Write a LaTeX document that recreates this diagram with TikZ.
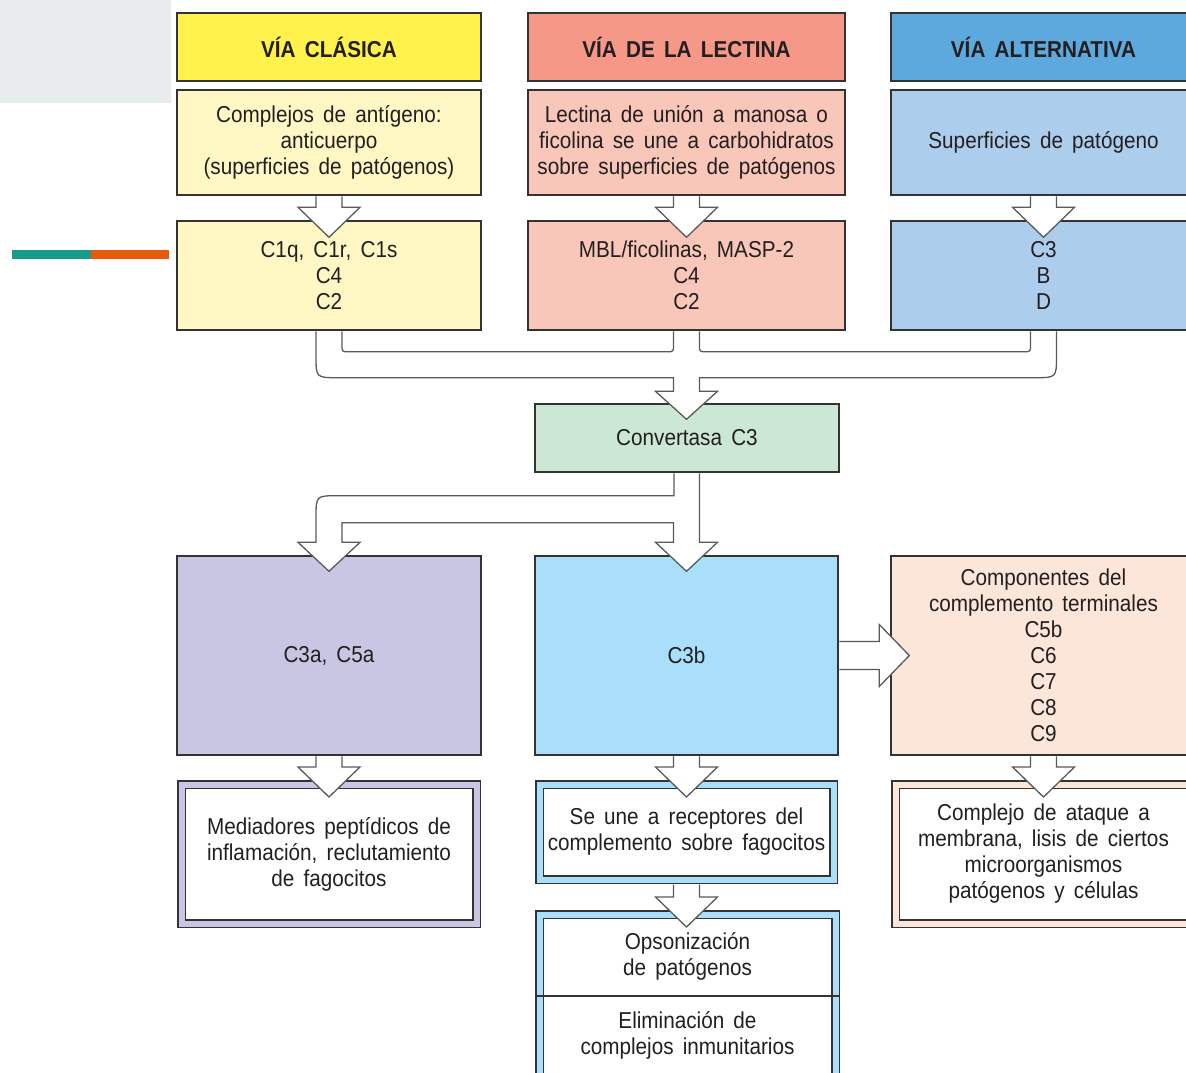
\documentclass[tikz,border=0pt]{standalone}
\usepackage{fontspec}
\setmainfont{Liberation Sans}[FakeStretch=0.9,WordSpace=1.6]
\usetikzlibrary{calc}

\definecolor{linea}{HTML}{333333}
\definecolor{grisflecha}{HTML}{5A5A5A}
\definecolor{texto}{HTML}{231F20}
\definecolor{grisfondo}{HTML}{E8ECEC}
\definecolor{verdeazul}{HTML}{1A9A8A}
\definecolor{naranja}{HTML}{E8590C}
\definecolor{amarillo}{HTML}{FFF24D}
\definecolor{amarilloclaro}{HTML}{FFF8C5}
\definecolor{salmon}{HTML}{F59887}
\definecolor{salmonclaro}{HTML}{F9C7BA}
\definecolor{azul}{HTML}{5DA9DD}
\definecolor{azulclaro}{HTML}{ADCDEC}
\definecolor{verde}{HTML}{CCE8D4}
\definecolor{morado}{HTML}{C8C6E3}
\definecolor{celeste}{HTML}{A9DFF9}
\definecolor{durazno}{HTML}{FCE5D9}

\tikzset{
  caja/.style={draw=linea, line width=1.4pt, text=texto, align=center, inner sep=0pt,
    font=\fontsize{23}{26}\selectfont},
  titulo/.style={caja, font=\fontsize{23}{26}\selectfont\bfseries},
  cajadoble/.style={caja, fill=white, double=#1, double distance=6pt, line width=1.5pt, outer sep=4.5pt},
  flecha/.style={draw=grisflecha, fill=white, line width=1.3pt, line join=miter},
  rotulo/.style={text=texto, align=center, inner sep=0pt, font=\fontsize{23}{26}\selectfont},
}

\newcommand{\flechabaja}[2]{%
  \draw[flecha] let \p1=(#1.south), \p2=(#2.north) in
    (\x1-13pt,\y1-0.7pt) -- (\x1-13pt,\y2+13pt) -- (\x1-31pt,\y2+13pt) -- (\x1,\y2-17pt)
    -- (\x1+31pt,\y2+13pt) -- (\x1+13pt,\y2+13pt) -- (\x1+13pt,\y1-0.7pt);}

\newcommand{\flechader}[2]{%
  \draw[flecha] let \p1=(#1.east), \p2=(#2.west) in
    (\x1+0.7pt,\y1+14pt) -- (\x2-11pt,\y1+14pt) -- (\x2-11pt,\y1+31pt) -- (\x2+19pt,\y1)
    -- (\x2-11pt,\y1-31pt) -- (\x2-11pt,\y1-14pt) -- (\x1+0.7pt,\y1-14pt);}

\begin{document}
\begin{tikzpicture}[x=1pt, y=-1pt]
  \useasboundingbox (0,0) rectangle (1186,1072);
  \clip (0,0) rectangle (1186,1072);

  \fill[grisfondo] (0,0) rectangle (171,103);
  \fill[verdeazul] (12,250) rectangle (91,259);
  \fill[naranja] (91,250) rectangle (169,259);

  % las tres vias
  \node[titulo, fill=amarillo, minimum width=304pt, minimum height=68pt] (h1) at (329,47) {VÍA CLÁSICA};
  \node[titulo, fill=salmon, minimum width=317pt, minimum height=68pt] (h2) at (686.5,47) {VÍA DE LA LECTINA};
  \node[titulo, fill=azul, minimum width=305pt, minimum height=68pt] (h3) at (1043.5,47) {VÍA ALTERNATIVA};

  \node[caja, fill=amarilloclaro, minimum width=304pt, minimum height=105pt] (s1) at (329,142.5)
    {Complejos de antígeno:\\anticuerpo\\(superficies de patógenos)};
  \node[caja, fill=salmonclaro, minimum width=317pt, minimum height=105pt] (s2) at (686.5,142.5)
    {Lectina de unión a manosa o\\ficolina se une a carbohidratos\\sobre superficies de patógenos};
  \node[caja, fill=azulclaro, minimum width=305pt, minimum height=105pt] (s3) at (1043.5,142.5)
    {Superficies de patógeno};

  \node[caja, fill=amarilloclaro, minimum width=304pt, minimum height=109pt] (c1) at (329,275.5)
    {C1q, C1r, C1s\\C4\\C2};
  \node[caja, fill=salmonclaro, minimum width=317pt, minimum height=109pt] (c2) at (686.5,275.5)
    {MBL/ficolinas, MASP-2\\C4\\C2};
  \node[caja, fill=azulclaro, minimum width=305pt, minimum height=109pt] (c3) at (1043.5,275.5)
    {C3\\B\\D};

  \node[caja, fill=verde, minimum width=304pt, minimum height=68pt] (conv) at (687,438) {Convertasa C3};

  \node[caja, fill=morado, minimum width=304pt, minimum height=199pt] (a1) at (329,655.5) {C3a, C5a};
  \node[caja, fill=celeste, minimum width=303pt, minimum height=199pt] (b) at (686.5,655.5) {C3b};
  \node[caja, fill=durazno, minimum width=305pt, minimum height=199pt] (t) at (1043.5,655.5)
    {Componentes del\\complemento terminales\\C5b\\C6\\C7\\C8\\C9};

  % efectos
  \node[cajadoble=morado, minimum width=295pt, minimum height=139pt] (m1) at (329,854)
    {Mediadores peptídicos de\\inflamación, reclutamiento\\de fagocitos};
  \node[cajadoble=celeste, minimum width=294pt, minimum height=95pt] (r1) at (686.5,832)
    {Se une a receptores del\\complemento sobre fagocitos};
  \node[cajadoble=celeste, minimum width=296pt, minimum height=180pt] (r2) at (687.5,1004.5) {};
  \node[rotulo] (op) at (687.5,956) {Opsonización\\de patógenos};
  \node[rotulo] (el) at (687.5,1035) {Eliminación de\\complejos inmunitarios};
  \coordinate (corte) at (687.5,996);
  \draw[linea, line width=1.4pt] (r2.west |- corte) -- (r2.east |- corte);
  \node[cajadoble=durazno, minimum width=296pt, minimum height=139pt] (k1) at (1043.5,854)
    {Complejo de ataque a\\membrana, lisis de ciertos\\microorganismos\\patógenos y células};

  \flechabaja{s1}{c1}
  \flechabaja{s2}{c2}
  \flechabaja{s3}{c3}

  % las tres vias se juntan en la convertasa
  \draw[flecha] let \p1=(c1.south), \p2=(c2.south), \p3=(c3.south), \p4=(conv.north) in
    (\x1-13pt,\y1-0.7pt) -- (\x1-13pt,\y1-25pt) .. controls (\x1-13pt,\y1-47pt) .. (\x1+9pt,\y1-47pt)
    -- (\x2-13pt,\y1-47pt) -- (\x2-13pt,\y4+12pt) -- (\x2-31pt,\y4+12pt) -- (\x2,\y4-16pt)
    -- (\x2+31pt,\y4+12pt) -- (\x2+13pt,\y4+12pt) -- (\x2+13pt,\y1-47pt)
    -- (\x3-9pt,\y1-47pt) .. controls (\x3+13pt,\y1-47pt) .. (\x3+13pt,\y1-25pt) -- (\x3+13pt,\y1-0.7pt);
  \draw[flecha, fill=none, rounded corners=3pt] let \p1=(c1.south), \p2=(c2.south) in
    (\x1+13pt,\y1-0.7pt) -- (\x1+13pt,\y1-21pt) -- (\x2-13pt,\y1-21pt) -- (\x2-13pt,\y1-0.7pt);
  \draw[flecha, fill=none, rounded corners=3pt] let \p1=(c2.south), \p2=(c3.south) in
    (\x1+13pt,\y1-0.7pt) -- (\x1+13pt,\y1-21pt) -- (\x2-13pt,\y1-21pt) -- (\x2-13pt,\y1-0.7pt);

  % la convertasa se reparte
  \draw[flecha] let \p1=(conv.south), \p2=(a1.north), \p3=(b.north) in
    (\x1-13pt,\y1-0.7pt) -- (\x1-13pt,\y1-23pt) -- (\x2+9pt,\y1-23pt) .. controls (\x2-13pt,\y1-23pt) .. (\x2-13pt,\y1-45pt)
    -- (\x2-13pt,\y2+13pt) -- (\x2-31pt,\y2+13pt) -- (\x2,\y2-16pt) -- (\x2+31pt,\y2+13pt) -- (\x2+13pt,\y2+13pt)
    -- (\x2+13pt,\y1-50pt) -- (\x3-13pt,\y1-50pt)
    -- (\x3-13pt,\y3+13pt) -- (\x3-31pt,\y3+13pt) -- (\x3,\y3-16pt) -- (\x3+31pt,\y3+13pt) -- (\x3+13pt,\y3+13pt)
    -- (\x3+13pt,\y1-0.7pt);

  \flechader{b}{t}
  \flechabaja{a1}{m1}
  \flechabaja{b}{r1}
  \flechabaja{r1}{r2}
  \flechabaja{t}{k1}
\end{tikzpicture}
\end{document}
